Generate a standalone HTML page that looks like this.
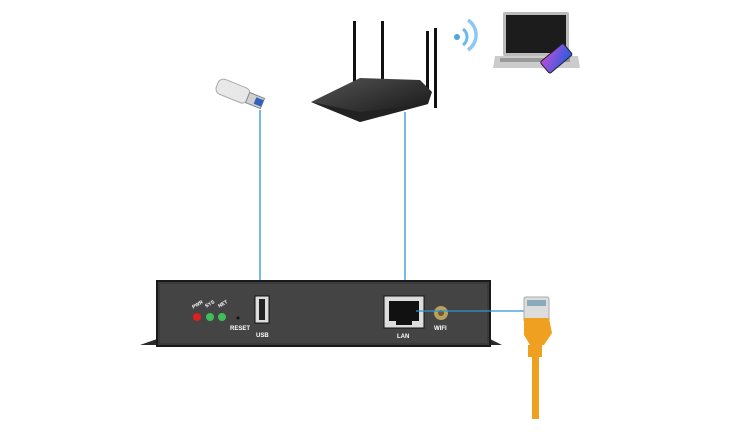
<!DOCTYPE html>
<html><head><meta charset="utf-8"><style>
html,body{margin:0;padding:0;background:#fff;width:750px;height:440px;overflow:hidden}
text{font-family:"Liberation Sans",sans-serif;font-weight:bold}
</style></head><body>
<svg width="750" height="440" viewBox="0 0 750 440" xmlns="http://www.w3.org/2000/svg">
<defs>
<linearGradient id="rt" x1="0" y1="0" x2="1" y2="1"><stop offset="0" stop-color="#555"/><stop offset="1" stop-color="#111"/></linearGradient>
<linearGradient id="ph" x1="0" y1="0" x2="1" y2="1"><stop offset="0" stop-color="#c04bd8"/><stop offset="1" stop-color="#1f5fe0"/></linearGradient>
</defs>
<line x1="260" y1="110" x2="260" y2="302" stroke="#2f95d6" stroke-width="1.3"/>
<line x1="405" y1="112" x2="405" y2="300" stroke="#2f95d6" stroke-width="1.3"/>
<path d="M140 345 L157 339 L490 339 L502 345 Z" fill="#2a2a2a"/>
<rect x="157" y="281" width="333" height="65" fill="#3a3a3a" stroke="#1a1a1a" stroke-width="2"/>
<rect x="160" y="284" width="327" height="59" fill="#444"/>
<circle cx="197" cy="317" r="4" fill="#e02020"/>
<circle cx="210" cy="317" r="4" fill="#3fbf5a"/>
<circle cx="222" cy="317" r="4" fill="#3fbf5a"/>
<circle cx="238" cy="318" r="1.5" fill="#111"/>
<text x="192" y="308" font-size="5" fill="#fff" transform="rotate(-30 194 306)">PWR</text>
<text x="205" y="307" font-size="5" fill="#fff" transform="rotate(-30 207 305)">SYS</text>
<text x="218" y="307" font-size="5" fill="#fff" transform="rotate(-30 220 305)">NET</text>
<text x="230" y="330" font-size="6" fill="#fff">RESET</text>
<rect x="255" y="296" width="14" height="27" fill="#ddd" stroke="#111"/>
<rect x="259" y="299" width="6" height="21" fill="#222"/>
<text x="256" y="337" font-size="6" fill="#fff">USB</text>
<rect x="384" y="296" width="40" height="32" fill="#ddd" stroke="#111"/>
<rect x="389" y="301" width="30" height="20" fill="#111"/>
<rect x="396" y="321" width="16" height="4" fill="#111"/>
<text x="397" y="338" font-size="6" fill="#fff">LAN</text>
<circle cx="441" cy="313" r="7" fill="#b8a060"/>
<circle cx="441" cy="313" r="3" fill="#6a5a30"/>
<text x="434" y="330" font-size="6" fill="#fff">WIFI</text>
<line x1="416" y1="311" x2="530" y2="311" stroke="#2f95d6" stroke-width="1.3"/>
<rect x="524" y="297" width="25" height="25" rx="2" fill="#ddd" stroke="#aaa"/>
<rect x="527" y="300" width="19" height="6" fill="#8ab"/>
<path d="M524 318 L549 318 L552 333 L544 345 L530 345 L524 335 Z" fill="#f0a020"/>
<rect x="528" y="345" width="14" height="12" fill="#f0a020"/>
<rect x="532" y="357" width="7" height="62" fill="#f0a020"/>
<g transform="rotate(22 240 95)">
<rect x="215" y="86" width="34" height="16" rx="6" fill="#e8e8e8" stroke="#aaa"/>
<rect x="248" y="89" width="16" height="11" fill="#d0d0d0" stroke="#888"/>
<rect x="256" y="91" width="8" height="7" fill="#3060c0"/>
</g>
<rect x="353" y="21" width="3" height="62" fill="#111"/>
<rect x="381" y="21" width="3" height="62" fill="#111"/>
<rect x="426" y="31" width="3" height="70" fill="#111"/>
<rect x="434" y="28" width="3" height="80" fill="#111"/>
<path d="M311 102 L360 78 L420 80 L432 92 L428 104 L360 122 Z" fill="url(#rt)"/>
<path d="M311 102 L360 122 L428 104 L360 112 Z" fill="#222"/>
<circle cx="457" cy="37" r="3" fill="#4aa8e8"/>
<path d="M463 29 A10 10 0 0 1 463 45" stroke="#6bb8ee" stroke-width="3" fill="none"/>
<path d="M468 20 A18 18 0 0 1 468 50" stroke="#8cc8f2" stroke-width="3.5" fill="none"/>
<rect x="503" y="12" width="66" height="44" rx="2" fill="#bbb"/>
<rect x="506" y="15" width="60" height="38" fill="#1c1c1c"/>
<path d="M495 56 L578 56 L580 68 L493 68 Z" fill="#ccc"/>
<rect x="500" y="58" width="70" height="4" fill="#999"/>
<g transform="rotate(-40 556 58)">
<rect x="541" y="51" width="30" height="15" rx="2" fill="url(#ph)" stroke="#222"/>
</g>
</svg>
</body></html>
